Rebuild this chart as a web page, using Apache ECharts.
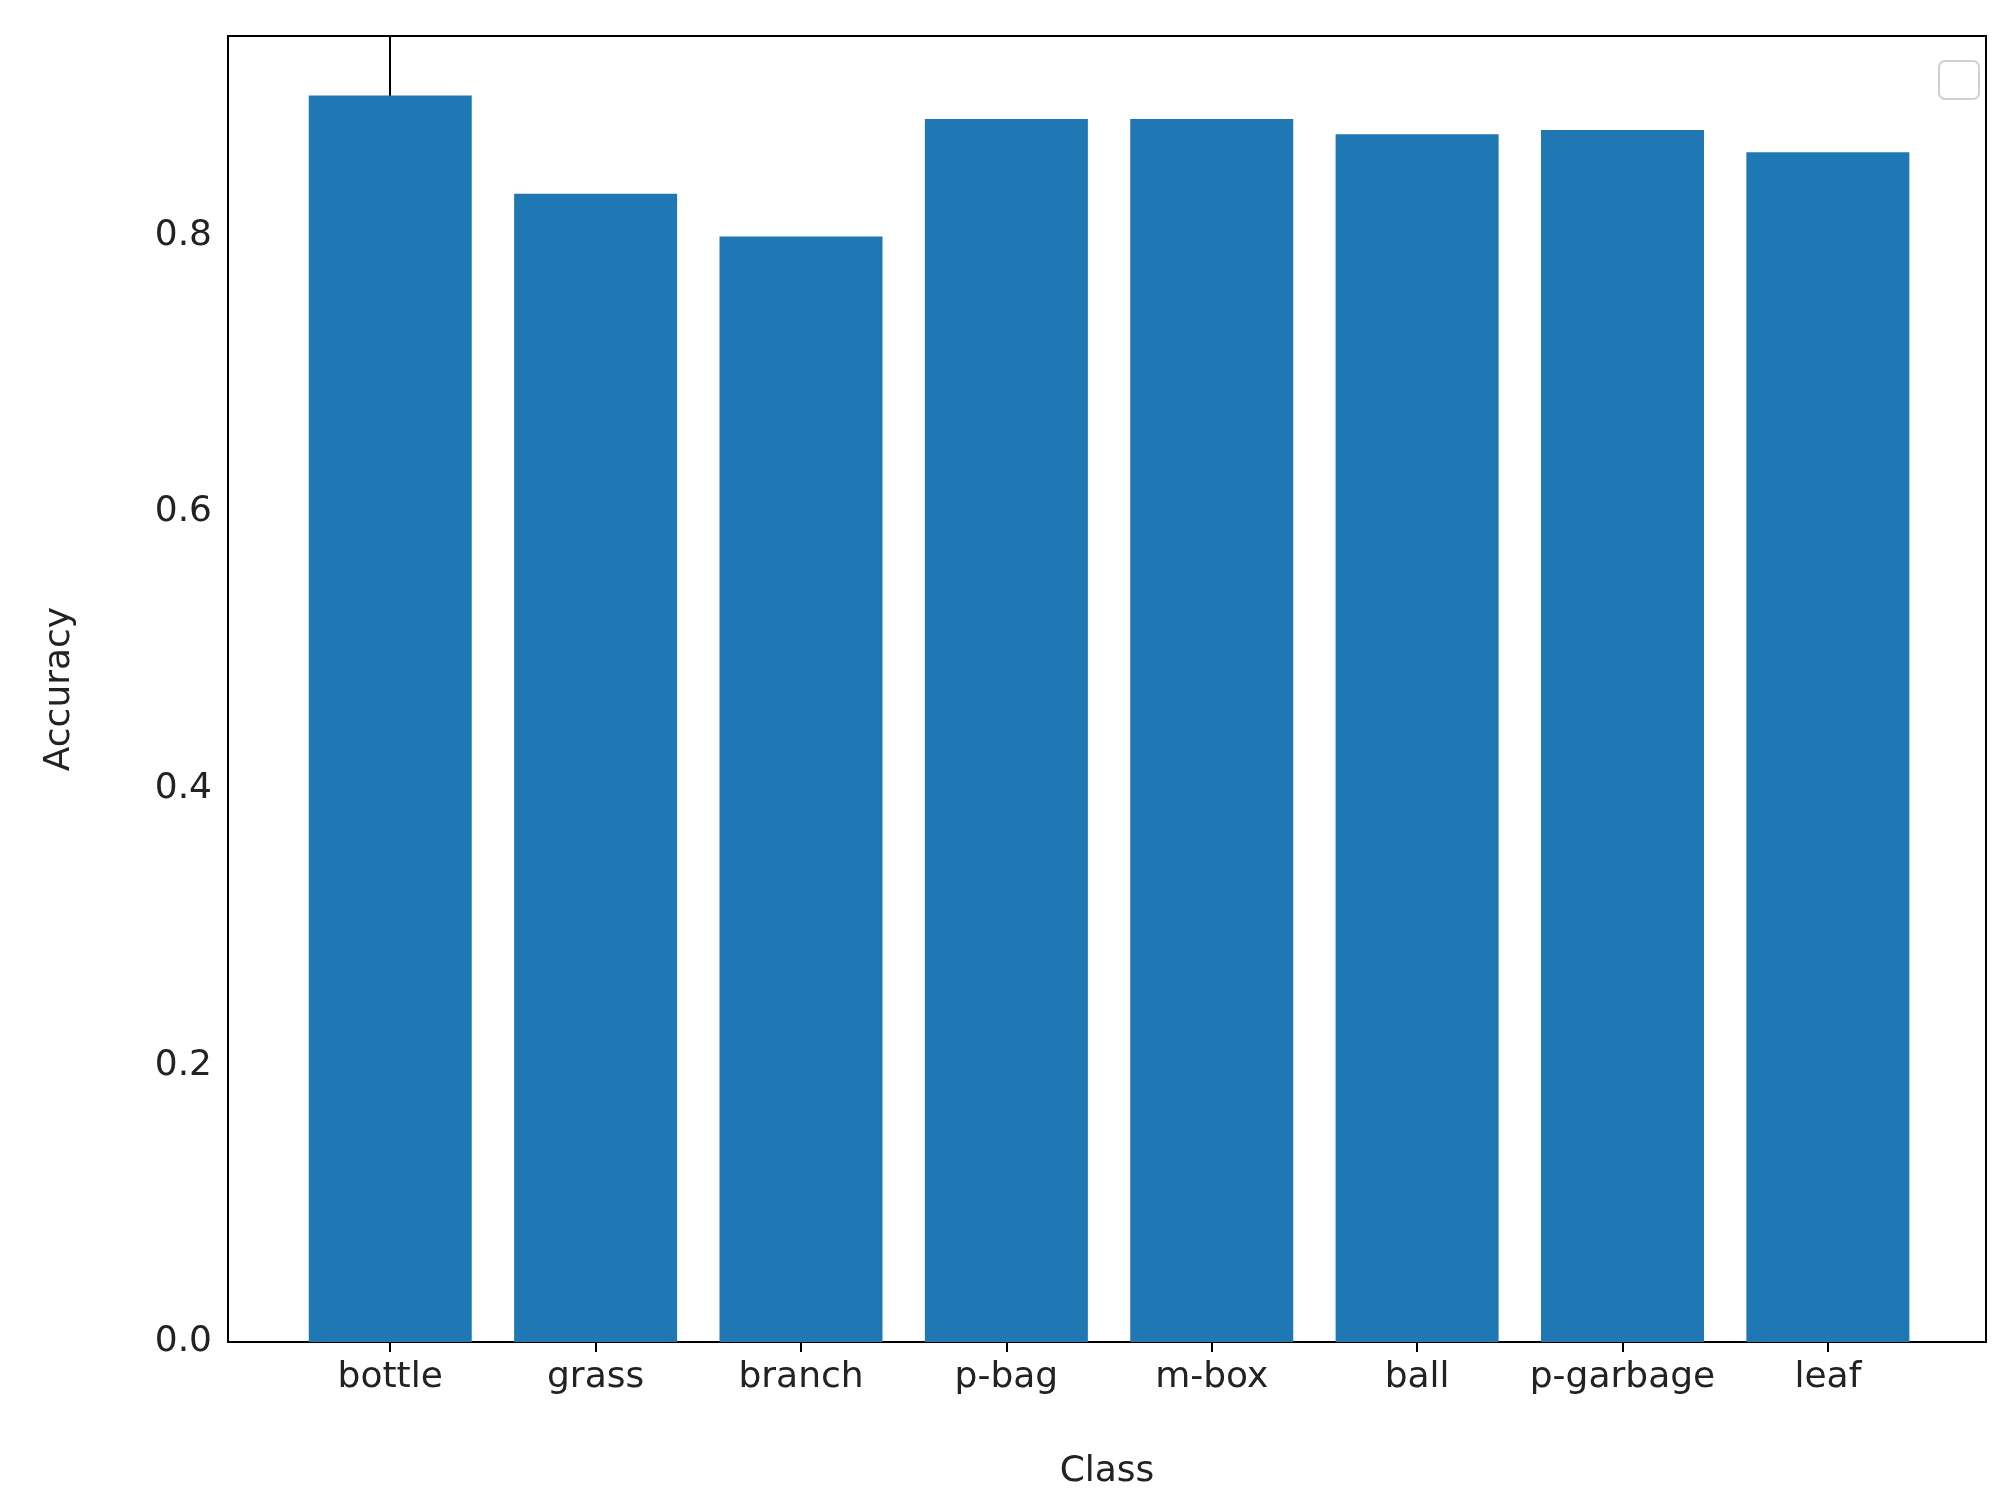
<!DOCTYPE html>
<html>
<head>
<meta charset="utf-8">
<script src="https://cdn.jsdelivr.net/npm/echarts@6/dist/echarts.min.js"></script>
<style>html,body{margin:0;padding:0;background:#fff;}#main{width:2008px;height:1497px;}</style>
</head>
<body>
<div id="main"></div>
<script>
var classes = ['bottle', 'grass', 'branch', 'p-bag', 'm-box', 'ball', 'p-garbage', 'leaf'];
var accuracy = [0.901, 0.830, 0.799, 0.884, 0.884, 0.873, 0.876, 0.860];
var yTicks = [0, 0.2, 0.4, 0.6, 0.8];

var chartDom = document.getElementById('main');
var myChart = echarts.init(chartDom);
var option;

var positions = classes.map(function (c, i) { return i; });
var font = 'DejaVu Sans';

option = {
	animation: false,
	grid: {
		left: 228, right: 22, top: 36, bottom: 155,
		show: true, borderColor: '#000', borderWidth: 2
	},
	xAxis: {
		type: 'value',
		min: -0.79,
		max: 7.77,
		name: 'Class',
		nameLocation: 'middle',
		nameGap: 112,
		nameTextStyle: { fontFamily: font, fontSize: 36, color: '#222' },
		axisLine: { show: true, onZero: false, lineStyle: { color: '#000', width: 2 } },
		axisTick: { show: true, length: 10, lineStyle: { color: '#000', width: 2 }, customValues: positions },
		axisLabel: {
			customValues: positions,
			margin: 18,
			fontFamily: font, fontSize: 36, color: '#222',
			formatter: function (v) { return classes[Math.round(v)]; }
		},
		splitLine: { show: false }
	},
	yAxis: {
		type: 'value',
		min: 0,
		max: 0.944,
		name: 'Accuracy',
		nameLocation: 'middle',
		nameGap: 150,
		nameTextStyle: { fontFamily: font, fontSize: 36, color: '#222' },
		axisLine: { show: true, lineStyle: { color: '#000', width: 2 } },
		axisTick: { show: true, length: 10, lineStyle: { color: '#000', width: 2 }, customValues: yTicks },
		axisLabel: {
			customValues: yTicks,
			margin: 16,
			fontFamily: font, fontSize: 36, color: '#222',
			formatter: function (v) { return v.toFixed(1); }
		},
		splitLine: { show: false }
	},
	series: [
		{
			type: 'bar',
			barWidth: 163,
			itemStyle: { color: '#1f77b4' },
			data: accuracy.map(function (v, i) { return [i, v]; })
		}
	],
	graphic: [
		{
			type: 'rect',
			right: 28,
			top: 60,
			shape: { width: 40, height: 38, r: 6 },
			style: { fill: '#fff', stroke: '#d0d0d0', lineWidth: 2 }
		}
	]
};

option && myChart.setOption(option);
</script>
</body>
</html>
